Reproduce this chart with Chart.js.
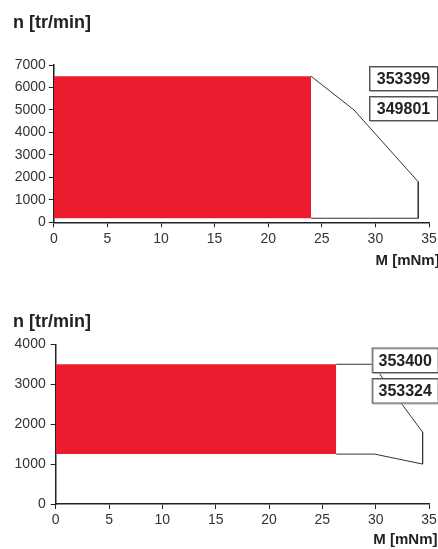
<!DOCTYPE html>
<html>
<head>
<meta charset="utf-8">
<script src="https://cdn.jsdelivr.net/npm/chart.js@4.4.1/dist/chart.umd.min.js"></script>
<style>
  body { margin: 0; background: #fff; }
  #g1, #g2 { position: absolute; left: 0; }
  #g1 { top: 0; }
  #g2 { top: 275px; }
</style>
</head>
<body>
<canvas id="g1" width="438" height="275"></canvas>
<canvas id="g2" width="438" height="274"></canvas>
<script>
const ticksM = [0, 5, 10, 15, 20, 25, 30, 35];

// moteurs 353399 / 349801
const refs1 = ['353399', '349801'];
const ticksN1 = [0, 1000, 2000, 3000, 4000, 5000, 6000, 7000];
const zoneM1 = [0, 24];
const zoneNhaut1 = [6500, 6500];
const zoneNbas1 = [180, 180];
const limiteM1 = [24, 28, 34, 34, 24];
const limiteN1 = [6500, 5000, 1800, 180, 180];

// moteurs 353400 / 353324
const refs2 = ['353400', '353324'];
const ticksN2 = [0, 1000, 2000, 3000, 4000];
const zoneM2 = [0, 26.3];
const zoneNhaut2 = [3500, 3500];
const zoneNbas2 = [1250, 1250];
const limiteM2 = [26.3, 29.7, 34.4, 34.4, 29.9, 26.3];
const limiteN2 = [3500, 3500, 1800, 1000, 1250, 1250];

const ROUGE = '#ec1c2e';
const POLICE = '"Liberation Sans", Arial, Helvetica, sans-serif';
Chart.defaults.font.family = POLICE;

const pts = (xs, ys) => xs.map((x, i) => ({ x: x, y: ys[i] }));

// cadres avec les references + titre de l'axe M
const cadresRefs = {
    id: 'cadresRefs',
    afterDraw(chart, args, o) {
        const ctx = chart.ctx;
        ctx.save();
        o.refs.forEach((ref, i) => {
            let x = o.x, y = o.y + i * o.pas;
            ctx.fillStyle = '#fff';
            ctx.fillRect(x, y, o.w, o.h);
            ctx.lineWidth = 1;
            ctx.strokeStyle = '#aaa';
            ctx.strokeRect(x + 1.5, y + 1.5, o.w - 1, o.h - 1);
            ctx.strokeStyle = '#555';
            ctx.strokeRect(x + 0.5, y + 0.5, o.w - 1, o.h - 1);
            ctx.fillStyle = '#222';
            ctx.font = 'bold 16px ' + POLICE;
            ctx.textAlign = 'center';
            ctx.textBaseline = 'middle';
            ctx.fillText(ref, x + o.w / 2, y + o.h / 2 + 1);
        });
        ctx.fillStyle = '#222';
        ctx.font = 'bold 15px ' + POLICE;
        ctx.textAlign = 'left';
        ctx.textBaseline = 'middle';
        ctx.fillText('M [mNm]', o.titreX, chart.chartArea.bottom + o.titreDy);
        ctx.restore();
    }
};

function creerGraphique(id, p) {
    return new Chart(document.getElementById(id), {
        type: 'line',
        data: {
            datasets: [{
                data: pts(p.zoneM, p.zoneNbas),
                borderWidth: 0,
                pointRadius: 0,
                fill: false
            }, {
                data: pts(p.zoneM, p.zoneNhaut),
                borderWidth: 0,
                pointRadius: 0,
                backgroundColor: ROUGE,
                fill: '-1'
            }, {
                data: pts(p.limiteM, p.limiteN),
                borderColor: '#333',
                borderWidth: 1,
                pointRadius: 0,
                fill: false
            }]
        },
        plugins: [cadresRefs],
        options: {
            responsive: false,
            animation: false,
            devicePixelRatio: 1,
            layout: { padding: { left: 13, right: 9, top: 0, bottom: 0 } },
            plugins: {
                legend: { display: false },
                tooltip: { enabled: false },
                title: {
                    display: true,
                    text: 'n [tr/min]',
                    align: 'start',
                    color: '#222',
                    font: { size: 18, weight: 'bold' },
                    padding: p.titrePad
                },
                cadresRefs: p.cadres
            },
            scales: {
                x: {
                    type: 'linear',
                    min: 0,
                    max: 35,
                    afterBuildTicks: s => { s.ticks = ticksM.map(v => ({ value: v })); },
                    afterFit: s => { s.height = p.hauteurX; s.paddingLeft = 0; s.paddingRight = 0; },
                    grid: { drawOnChartArea: false, tickLength: 5, color: '#222' },
                    border: { color: '#222', width: 1.5 },
                    ticks: { padding: 3, color: '#333', font: { size: 14 }, maxRotation: 0, autoSkip: false,
                             callback: v => String(v) }
                },
                y: {
                    min: 0,
                    max: p.ticksN[p.ticksN.length - 1],
                    afterBuildTicks: s => { s.ticks = p.ticksN.map(v => ({ value: v })); },
                    afterFit: s => { s.width = p.largeurY; s.paddingTop = 0; s.paddingBottom = 0; },
                    grid: { drawOnChartArea: false, tickLength: 5, color: '#222' },
                    border: { color: '#222', width: 1.5 },
                    ticks: { padding: p.padY, color: '#333', font: { size: 14 }, autoSkip: false,
                             callback: v => String(v) }
                }
            }
        }
    });
}

creerGraphique('g1', {
    zoneM: zoneM1, zoneNhaut: zoneNhaut1, zoneNbas: zoneNbas1,
    limiteM: limiteM1, limiteN: limiteN1, ticksN: ticksN1,
    titrePad: { top: 12.4, bottom: 31 },
    hauteurX: 52.7, largeurY: 40.8, padY: 3,
    cadres: { refs: refs1, x: 369, y: 66, w: 69, h: 25, pas: 30, titreX: 375.5, titreDy: 38.7 }
});

creerGraphique('g2', {
    zoneM: zoneM2, zoneNhaut: zoneNhaut2, zoneNbas: zoneNbas2,
    limiteM: limiteM2, limiteN: limiteN2, ticksN: ticksN2,
    titrePad: { top: 36.2, bottom: 11.5 },
    hauteurX: 45, largeurY: 42.7, padY: 5,
    cadres: { refs: refs2, x: 371.7, y: 72.5, w: 67, h: 25.5, pas: 30.5, titreX: 373.3, titreDy: 36 }
});
</script>
</body>
</html>
